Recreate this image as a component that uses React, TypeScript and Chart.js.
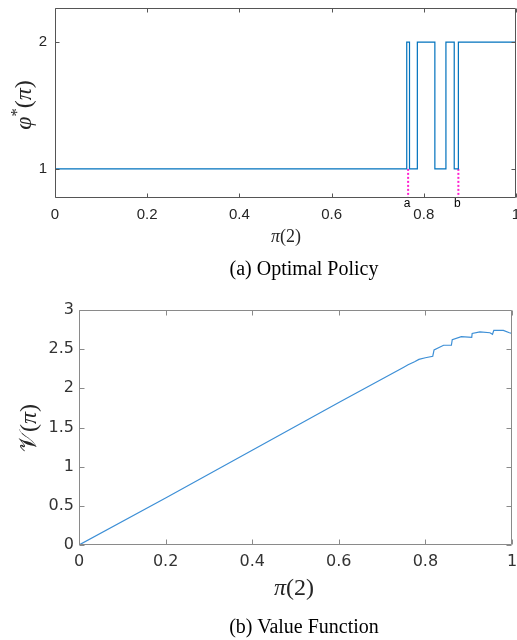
import React, { useEffect, useRef } from "react";
import { Chart, registerables } from "chart.js";

Chart.register(...registerables);

// ---- Data ----
const X_TICKS = [0, 0.2, 0.4, 0.6, 0.8, 1];

const POLICY_X = [0, 0.763, 0.769, 0.786, 0.824, 0.848, 0.866, 0.875, 1];
const POLICY_Y = [1, 2, 1, 2, 1, 2, 1, 2, 2];
const POLICY_Y_TICKS = [1, 2];
const POLICY_Y_MIN = 0.77;
const POLICY_Y_MAX = 2.27;
const MARK_LABELS = ["a", "b"];
const MARK_X = [0.766, 0.875];

const VALUE_X = [0, 0.2, 0.4, 0.6, 0.7, 0.75, 0.76, 0.775, 0.785, 0.8, 0.817, 0.82, 0.842, 0.86, 0.862, 0.883, 0.907, 0.908, 0.926, 0.949, 0.955, 0.958, 0.98, 0.994, 1];
const VALUE_Y = [0, 0.6, 1.21, 1.82, 2.12, 2.27, 2.3, 2.34, 2.37, 2.39, 2.41, 2.49, 2.55, 2.55, 2.62, 2.66, 2.65, 2.7, 2.72, 2.71, 2.69, 2.74, 2.74, 2.71, 2.7];
const VALUE_Y_TICKS = [0, 0.5, 1, 1.5, 2, 2.5, 3];

// ---- Plugins ----
const boxPlugin = {
  id: "matlabBox",
  afterDraw(chart: any, _args: any, opts: any) {
    const { ctx, chartArea } = chart;
    const { left, right, top, bottom } = chartArea;
    const xs = chart.scales.x;
    const ys = chart.scales.y;
    const len = opts.len || 5;
    ctx.save();
    ctx.strokeStyle = opts.color || "#555";
    ctx.lineWidth = 1;
    const L = Math.round(left) + 0.5;
    const R = Math.round(right) - 0.5;
    const T = Math.round(top) + 0.5;
    const B = Math.round(bottom) - 0.5;
    ctx.beginPath();
    ctx.rect(L, T, R - L, B - T);
    ctx.stroke();
    ctx.beginPath();
    for (const t of xs.ticks) {
      const px = Math.round(xs.getPixelForValue(t.value)) + 0.5;
      ctx.moveTo(px, B);
      ctx.lineTo(px, B - len);
      ctx.moveTo(px, T);
      ctx.lineTo(px, T + len);
    }
    for (const t of ys.ticks) {
      const py = Math.round(ys.getPixelForValue(t.value)) + 0.5;
      ctx.moveTo(L, py);
      ctx.lineTo(L + len, py);
      ctx.moveTo(R, py);
      ctx.lineTo(R - len, py);
    }
    ctx.stroke();
    ctx.restore();
  },
};

const markLabelPlugin = {
  id: "markLabels",
  afterDraw(chart: any, _args: any, opts: any) {
    if (!opts || !opts.labels) return;
    const { ctx, chartArea } = chart;
    const xs = chart.scales.x;
    ctx.save();
    ctx.fillStyle = "#000";
    ctx.font = "12px 'Liberation Sans', Arial, sans-serif";
    ctx.textAlign = "center";
    ctx.textBaseline = "middle";
    opts.labels.forEach((lab: string, i: number) => {
      const px = xs.getPixelForValue(opts.xs[i]) - 1;
      ctx.fillText(lab, px, chartArea.bottom + 6);
    });
    ctx.restore();
  },
};

function PolicyChart() {
  const ref = useRef<HTMLCanvasElement | null>(null);
  useEffect(() => {
    if (!ref.current) return;
    const policyData = POLICY_X.map((x, i) => ({ x, y: POLICY_Y[i] }));
    const markSets = MARK_X.map((mx) => ({
      label: "mark",
      data: [
        { x: mx, y: 1 },
        { x: mx, y: POLICY_Y_MIN },
      ],
      borderColor: "#ff1fd0",
      borderWidth: 2,
      borderDash: [2, 2],
      pointRadius: 0,
      fill: false,
    }));
    const chart = new Chart(ref.current, {
      type: "line",
      data: {
        datasets: [
          {
            label: "policy",
            data: policyData,
            stepped: "before",
            borderColor: "#0072BD",
            borderWidth: 1.2,
            pointRadius: 0,
            fill: false,
          },
          ...markSets,
        ] as any,
      },
      options: {
        animation: false,
        responsive: false,
        maintainAspectRatio: false,
        layout: { padding: { top: 8, right: 1, left: 0, bottom: 0 } },
        plugins: {
          legend: { display: false },
          tooltip: { enabled: false },
          matlabBox: { color: "#555", len: 4 },
          markLabels: { labels: MARK_LABELS, xs: MARK_X },
        } as any,
        scales: {
          x: {
            type: "linear",
            min: 0,
            max: 1,
            grid: { display: false, drawTicks: false },
            border: { display: false },
            afterBuildTicks: (s: any) => {
              s.ticks = X_TICKS.map((v) => ({ value: v }));
            },
            afterFit: (s: any) => {
              s.height = 52;
              s.paddingLeft = 0;
              s.paddingRight = 0;
            },
            ticks: {
              autoSkip: false,
              maxRotation: 0,
              padding: 8,
              color: "#262626",
              font: { family: "'Liberation Sans', Arial, sans-serif", size: 15 },
              callback: (v: any) => String(v),
            },
          },
          y: {
            type: "linear",
            min: POLICY_Y_MIN,
            max: POLICY_Y_MAX,
            grid: { display: false, drawTicks: false },
            border: { display: false },
            afterBuildTicks: (s: any) => {
              s.ticks = POLICY_Y_TICKS.map((v) => ({ value: v }));
            },
            afterFit: (s: any) => {
              s.width = 55;
              s.paddingTop = 0;
              s.paddingBottom = 0;
            },
            ticks: {
              padding: 8,
              color: "#262626",
              font: { family: "'Liberation Sans', Arial, sans-serif", size: 15 },
              callback: (v: any) => String(v),
            },
          },
        },
      } as any,
      plugins: [boxPlugin, markLabelPlugin],
    });
    return () => chart.destroy();
  }, []);
  return (
    <canvas
      ref={ref}
      width={517}
      height={250}
      style={{ position: "absolute", left: 0, top: 0, width: 517, height: 250 }}
    />
  );
}

function ValueChart() {
  const ref = useRef<HTMLCanvasElement | null>(null);
  useEffect(() => {
    if (!ref.current) return;
    const valueData = VALUE_X.map((x, i) => ({ x, y: VALUE_Y[i] }));
    const chart = new Chart(ref.current, {
      type: "line",
      data: {
        datasets: [
          {
            label: "value",
            data: valueData,
            borderColor: "#3d8fd6",
            borderWidth: 1.2,
            pointRadius: 0,
            tension: 0,
            fill: false,
          },
        ],
      },
      options: {
        animation: false,
        responsive: false,
        maintainAspectRatio: false,
        layout: { padding: { top: 20, right: 5, left: 0, bottom: 0 } },
        plugins: {
          legend: { display: false },
          tooltip: { enabled: false },
          matlabBox: { color: "#8a8a8a", len: 5 },
        } as any,
        scales: {
          x: {
            type: "linear",
            min: 0,
            max: 1,
            grid: { display: false, drawTicks: false },
            border: { display: false },
            afterBuildTicks: (s: any) => {
              s.ticks = X_TICKS.map((v) => ({ value: v }));
            },
            afterFit: (s: any) => {
              s.height = 65;
              s.paddingLeft = 0;
              s.paddingRight = 0;
            },
            ticks: {
              autoSkip: false,
              maxRotation: 0,
              padding: 7,
              color: "#333",
              font: { family: "'DejaVu Sans', sans-serif", size: 16 },
              callback: (v: any) => String(v),
            },
          },
          y: {
            type: "linear",
            min: 0,
            max: 3,
            grid: { display: false, drawTicks: false },
            border: { display: false },
            afterBuildTicks: (s: any) => {
              s.ticks = VALUE_Y_TICKS.map((v) => ({ value: v }));
            },
            afterFit: (s: any) => {
              s.width = 79;
              s.paddingTop = 0;
              s.paddingBottom = 0;
            },
            ticks: {
              padding: 5,
              color: "#333",
              font: { family: "'DejaVu Sans', sans-serif", size: 16 },
              callback: (v: any) => String(v),
            },
          },
        },
      } as any,
      plugins: [boxPlugin],
    });
    return () => chart.destroy();
  }, []);
  return (
    <canvas
      ref={ref}
      width={517}
      height={320}
      style={{ position: "absolute", left: 0, top: 290, width: 517, height: 320 }}
    />
  );
}

const serif = "'Liberation Serif', 'Times New Roman', serif";

function Label(props: { x: number; y: number; size: number; rotate?: boolean; children: any; color?: string }) {
  const { x, y, size, rotate, children, color } = props;
  return (
    <div
      style={{
        position: "absolute",
        left: x,
        top: y,
        transform: `translate(-50%, -50%)${rotate ? " rotate(-90deg)" : ""}`,
        fontFamily: serif,
        fontSize: size,
        lineHeight: 1,
        whiteSpace: "nowrap",
        color: color || "#000",
      }}
    >
      {children}
    </div>
  );
}

export default function App() {
  return (
    <div
      style={{
        position: "absolute",
        left: 0,
        top: 0,
        width: 517,
        height: 640,
        overflow: "hidden",
        background: "#fff",
      }}
    >
      <PolicyChart />
      <ValueChart />
      <Label x={23} y={105} size={24} rotate color="#262626">
        <i>φ</i>
        <sup style={{ fontSize: "0.7em", lineHeight: 0 }}>*</sup>(<i>π</i>)
      </Label>
      <Label x={286} y={236} size={18} color="#262626">
        <i>π</i>(2)
      </Label>
      <Label x={304} y={268} size={20}>
        (a) Optimal Policy
      </Label>
      <Label x={28} y={428} size={24} rotate color="#262626">
        𝒱(<i>π</i>)
      </Label>
      <Label x={294} y={587} size={24} color="#262626">
        <i>π</i>(2)
      </Label>
      <Label x={304} y={626} size={20}>
        (b) Value Function
      </Label>
    </div>
  );
}
